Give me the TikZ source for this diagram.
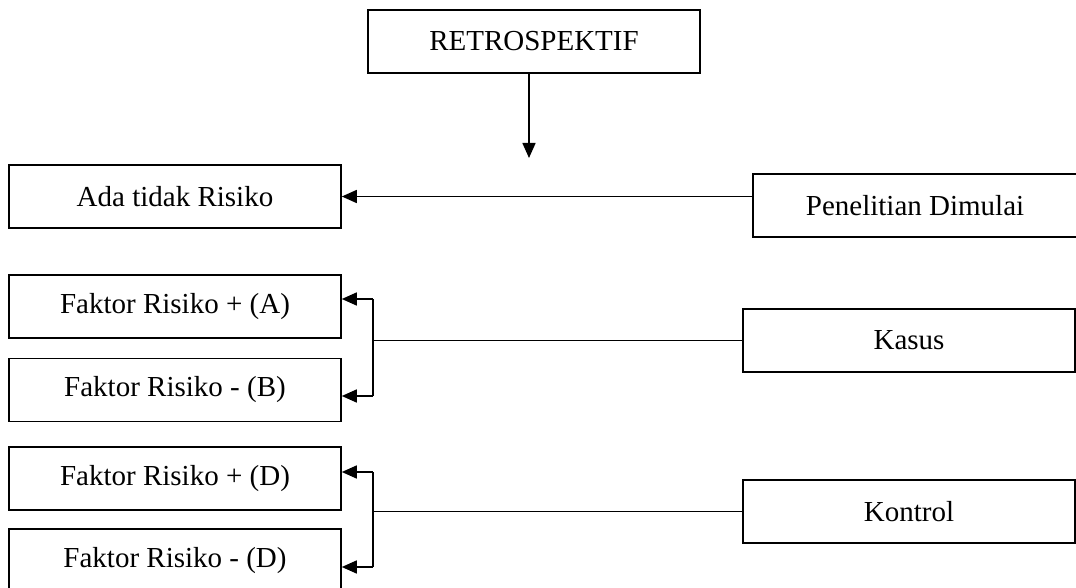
\documentclass[tikz,border=0pt]{standalone}
\usepackage{fontspec}
\setmainfont{Liberation Serif}
\usetikzlibrary{arrows.meta,calc}
\begin{document}
\begin{tikzpicture}[x=1pt,y=-1pt,
  box/.style={draw,line width=1.6pt,minimum height=63pt,inner sep=0pt,
    font=\fontsize{29}{32}\selectfont},
  lbox/.style={box,minimum width=332pt},
  arr/.style={line width=1.6pt,-{Triangle[length=15pt,width=13pt]}},
  ln/.style={line width=1.6pt}]
\useasboundingbox (0,0) rectangle (1076,588);
\clip (0,0) rectangle (1076,588);
\node[lbox] (retro) at (534,41.5) {RETROSPEKTIF};
\node[lbox] (ada) at (175,196.5) {Ada tidak Risiko};
\node[box,minimum width=324pt] (pen) at (915,205.5) {Penelitian Dimulai};
\node[lbox] (fa) at (175,306.5) {Faktor Risiko + (A)};
\node[lbox] (fb) at (175,390) {Faktor Risiko - (B)};
\node[lbox] (kasus) at (909,340.5) {Kasus};
\node[lbox] (fd1) at (175,478.5) {Faktor Risiko + (D)};
\node[lbox] (fd2) at (175,560.5) {Faktor Risiko - (D)};
\node[lbox] (kontrol) at (909,511.5) {Kontrol};
% retro arrow
\coordinate (rtip) at (529,158);
\draw[arr] (retro.south -| rtip) -- (rtip);
% penelitian -> ada
\draw[arr] (ada.east -| pen.west) -- (ada.east);
% kasus bracket
\coordinate (k1) at (373,299);
\coordinate (k2) at (373,396);
\draw[ln] (k1) -- (k2);
\draw[ln] (kasus.west) -- (kasus.west -| k1);
\draw[arr] (k1) -- (k1 -| fa.east);
\draw[arr] (k2) -- (k2 -| fb.east);
% kontrol bracket
\coordinate (c1) at (373,472);
\coordinate (c2) at (373,567);
\draw[ln] (c1) -- (c2);
\draw[ln] (kontrol.west) -- (kontrol.west -| c1);
\draw[arr] (c1) -- (c1 -| fd1.east);
\draw[arr] (c2) -- (c2 -| fd2.east);
\end{tikzpicture}
\end{document}
